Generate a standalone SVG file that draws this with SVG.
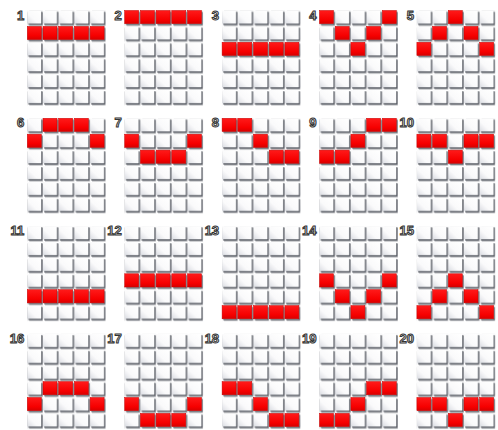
<svg xmlns="http://www.w3.org/2000/svg" xmlns:xlink="http://www.w3.org/1999/xlink" width="498" height="430" viewBox="0 0 498 430">
<style>
.lbl{font-family:"Liberation Sans",Arial,sans-serif;font-weight:bold;font-size:13px;fill:#e6e6e6;stroke:#333333;stroke-width:1px;text-anchor:end}
.board{fill:url(#cells)}
</style>
<defs>
<linearGradient id="wg" x1="1" y1="0" x2="0" y2="1">
<stop offset="0" stop-color="#ffffff"/>
<stop offset="0.6" stop-color="#fafafb"/>
<stop offset="1" stop-color="#dadce2"/>
</linearGradient>
<linearGradient id="rg" x1="0" y1="0" x2="0" y2="1">
<stop offset="0" stop-color="#ff1a1a"/>
<stop offset="0.7" stop-color="#f60000"/>
<stop offset="1" stop-color="#d80000"/>
</linearGradient>
<pattern id="cells" patternUnits="userSpaceOnUse" x="0" y="0" width="15.7" height="15.9">
<rect x="2" y="2" width="13.5" height="13.6" fill="#8e9096" opacity="0.6"/>
<rect x="1.2" y="1.2" width="14" height="13.3" fill="#53575f"/>
<rect x="0" y="0" width="14" height="13.2" fill="url(#wg)"/>
</pattern>
<rect id="r" width="14" height="13.2" fill="url(#rg)" stroke="#c80000" stroke-width="0.5"/>
</defs>

<g id="connectors"></g>

<g id="n1" transform="translate(27.3,10.5)">
<rect class="board" width="78.5" height="95.4"/>
<use href="#r" x="0" y="15.9"/><use href="#r" x="15.7" y="15.9"/><use href="#r" x="31.4" y="15.9"/><use href="#r" x="47.1" y="15.9"/><use href="#r" x="62.8" y="15.9"/>
<text class="lbl" x="-3" y="9">1</text>
</g>
<g id="n2" transform="translate(124.7,10.5)">
<rect class="board" width="78.5" height="95.4"/>
<use href="#r" x="0" y="0"/><use href="#r" x="15.7" y="0"/><use href="#r" x="31.4" y="0"/><use href="#r" x="47.1" y="0"/><use href="#r" x="62.8" y="0"/>
<text class="lbl" x="-3" y="9">2</text>
</g>
<g id="n3" transform="translate(222.1,10.5)">
<rect class="board" width="78.5" height="95.4"/>
<use href="#r" x="0" y="31.8"/><use href="#r" x="15.7" y="31.8"/><use href="#r" x="31.4" y="31.8"/><use href="#r" x="47.1" y="31.8"/><use href="#r" x="62.8" y="31.8"/>
<text class="lbl" x="-3" y="9">3</text>
</g>
<g id="n4" transform="translate(319.5,10.5)">
<rect class="board" width="78.5" height="95.4"/>
<use href="#r" x="0" y="0"/><use href="#r" x="62.8" y="0"/><use href="#r" x="15.7" y="15.9"/><use href="#r" x="47.1" y="15.9"/><use href="#r" x="31.4" y="31.8"/>
<text class="lbl" x="-3" y="9">4</text>
</g>
<g id="n5" transform="translate(416.9,10.5)">
<rect class="board" width="78.5" height="95.4"/>
<use href="#r" x="31.4" y="0"/><use href="#r" x="15.7" y="15.9"/><use href="#r" x="47.1" y="15.9"/><use href="#r" x="0" y="31.8"/><use href="#r" x="62.8" y="31.8"/>
<text class="lbl" x="-3" y="9">5</text>
</g>

<g id="n6" transform="translate(27.3,118.3)">
<rect class="board" width="78.5" height="95.4"/>
<use href="#r" x="15.7" y="0"/><use href="#r" x="31.4" y="0"/><use href="#r" x="47.1" y="0"/><use href="#r" x="0" y="15.9"/><use href="#r" x="62.8" y="15.9"/>
<text class="lbl" x="-3" y="9">6</text>
</g>
<g id="n7" transform="translate(124.7,118.3)">
<rect class="board" width="78.5" height="95.4"/>
<use href="#r" x="0" y="15.9"/><use href="#r" x="62.8" y="15.9"/><use href="#r" x="15.7" y="31.8"/><use href="#r" x="31.4" y="31.8"/><use href="#r" x="47.1" y="31.8"/>
<text class="lbl" x="-3" y="9">7</text>
</g>
<g id="n8" transform="translate(222.1,118.3)">
<rect class="board" width="78.5" height="95.4"/>
<use href="#r" x="0" y="0"/><use href="#r" x="15.7" y="0"/><use href="#r" x="31.4" y="15.9"/><use href="#r" x="47.1" y="31.8"/><use href="#r" x="62.8" y="31.8"/>
<text class="lbl" x="-3" y="9">8</text>
</g>
<g id="n9" transform="translate(319.5,118.3)">
<rect class="board" width="78.5" height="95.4"/>
<use href="#r" x="47.1" y="0"/><use href="#r" x="62.8" y="0"/><use href="#r" x="31.4" y="15.9"/><use href="#r" x="0" y="31.8"/><use href="#r" x="15.7" y="31.8"/>
<text class="lbl" x="-3" y="9">9</text>
</g>
<g id="n10" transform="translate(416.9,118.3)">
<rect class="board" width="78.5" height="95.4"/>
<use href="#r" x="0" y="15.9"/><use href="#r" x="15.7" y="15.9"/><use href="#r" x="47.1" y="15.9"/><use href="#r" x="62.8" y="15.9"/><use href="#r" x="31.4" y="31.8"/>
<text class="lbl" x="-3" y="9">10</text>
</g>

<g id="n11" transform="translate(27.3,226.1)">
<rect class="board" width="78.5" height="95.4"/>
<use href="#r" x="0" y="63.6"/><use href="#r" x="15.7" y="63.6"/><use href="#r" x="31.4" y="63.6"/><use href="#r" x="47.1" y="63.6"/><use href="#r" x="62.8" y="63.6"/>
<text class="lbl" x="-3" y="9">11</text>
</g>
<g id="n12" transform="translate(124.7,226.1)">
<rect class="board" width="78.5" height="95.4"/>
<use href="#r" x="0" y="47.7"/><use href="#r" x="15.7" y="47.7"/><use href="#r" x="31.4" y="47.7"/><use href="#r" x="47.1" y="47.7"/><use href="#r" x="62.8" y="47.7"/>
<text class="lbl" x="-3" y="9">12</text>
</g>
<g id="n13" transform="translate(222.1,226.1)">
<rect class="board" width="78.5" height="95.4"/>
<use href="#r" x="0" y="79.5"/><use href="#r" x="15.7" y="79.5"/><use href="#r" x="31.4" y="79.5"/><use href="#r" x="47.1" y="79.5"/><use href="#r" x="62.8" y="79.5"/>
<text class="lbl" x="-3" y="9">13</text>
</g>
<g id="n14" transform="translate(319.5,226.1)">
<rect class="board" width="78.5" height="95.4"/>
<use href="#r" x="0" y="47.7"/><use href="#r" x="62.8" y="47.7"/><use href="#r" x="15.7" y="63.6"/><use href="#r" x="47.1" y="63.6"/><use href="#r" x="31.4" y="79.5"/>
<text class="lbl" x="-3" y="9">14</text>
</g>
<g id="n15" transform="translate(416.9,226.1)">
<rect class="board" width="78.5" height="95.4"/>
<use href="#r" x="31.4" y="47.7"/><use href="#r" x="15.7" y="63.6"/><use href="#r" x="47.1" y="63.6"/><use href="#r" x="0" y="79.5"/><use href="#r" x="62.8" y="79.5"/>
<text class="lbl" x="-3" y="9">15</text>
</g>

<g id="n16" transform="translate(27.3,333.9)">
<rect class="board" width="78.5" height="95.4"/>
<use href="#r" x="15.7" y="47.7"/><use href="#r" x="31.4" y="47.7"/><use href="#r" x="47.1" y="47.7"/><use href="#r" x="0" y="63.6"/><use href="#r" x="62.8" y="63.6"/>
<text class="lbl" x="-3" y="9">16</text>
</g>
<g id="n17" transform="translate(124.7,333.9)">
<rect class="board" width="78.5" height="95.4"/>
<use href="#r" x="0" y="63.6"/><use href="#r" x="62.8" y="63.6"/><use href="#r" x="15.7" y="79.5"/><use href="#r" x="31.4" y="79.5"/><use href="#r" x="47.1" y="79.5"/>
<text class="lbl" x="-3" y="9">17</text>
</g>
<g id="n18" transform="translate(222.1,333.9)">
<rect class="board" width="78.5" height="95.4"/>
<use href="#r" x="0" y="47.7"/><use href="#r" x="15.7" y="47.7"/><use href="#r" x="31.4" y="63.6"/><use href="#r" x="47.1" y="79.5"/><use href="#r" x="62.8" y="79.5"/>
<text class="lbl" x="-3" y="9">18</text>
</g>
<g id="n19" transform="translate(319.5,333.9)">
<rect class="board" width="78.5" height="95.4"/>
<use href="#r" x="47.1" y="47.7"/><use href="#r" x="62.8" y="47.7"/><use href="#r" x="31.4" y="63.6"/><use href="#r" x="0" y="79.5"/><use href="#r" x="15.7" y="79.5"/>
<text class="lbl" x="-3" y="9">19</text>
</g>
<g id="n20" transform="translate(416.9,333.9)">
<rect class="board" width="78.5" height="95.4"/>
<use href="#r" x="0" y="63.6"/><use href="#r" x="15.7" y="63.6"/><use href="#r" x="47.1" y="63.6"/><use href="#r" x="62.8" y="63.6"/><use href="#r" x="31.4" y="79.5"/>
<text class="lbl" x="-3" y="9">20</text>
</g>
</svg>
